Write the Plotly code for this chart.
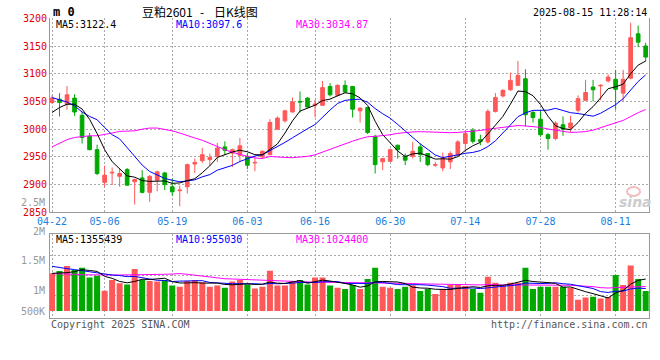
import plotly.graph_objects as go

# ---------------- data ----------------
tick_labels = ["04-22", "05-06", "05-19", "06-03", "06-16", "06-30", "07-14", "07-28", "08-11"]
tick_index = [0, 7, 16, 26, 35, 45, 55, 65, 75]   # trading-day index of each labelled date

opens = [3048, 3054, 3045, 3056, 3025, 2987, 2963, 2904, 2921, 2915,
         2927, 2905, 2912, 2886, 2908, 2921, 2896, 2889, 2896, 2937,
         2943, 2945, 2951, 2968, 2957, 2953, 2951, 2939, 2950, 2954,
         3000, 3015, 3031, 3050, 3056, 3043, 3043, 3077, 3061, 3079,
         3077, 3033, 3039, 2987, 2941, 2942, 2971, 2951, 2951, 2968,
         2956, 2935, 2930, 2941, 2953, 2974, 2998, 2981, 2977, 3032,
         3060, 3071, 3079, 3091, 3030, 3018, 2990, 2983, 3008, 3002,
         3034, 3052, 3076, 3078, 3087, 3090, 3065, 3092, 3172, 3150]
highs = [3061, 3065, 3078, 3063, 3031, 2993, 2972, 2934, 2931, 2929,
         2930, 2911, 2926, 2917, 2925, 2923, 2911, 2898, 2938, 2947,
         2966, 2956, 2975, 2978, 2965, 2984, 2957, 2949, 2962, 3018,
         3023, 3035, 3057, 3068, 3058, 3053, 3087, 3083, 3081, 3088,
         3078, 3039, 3040, 2990, 2948, 2965, 2972, 2956, 2977, 2974,
         2957, 2941, 2958, 2960, 2980, 2998, 3002, 2990, 3036, 3065,
         3072, 3102, 3123, 3108, 3033, 3035, 2993, 3014, 3023, 3024,
         3061, 3089, 3089, 3081, 3099, 3107, 3107, 3192, 3187, 3156]
lows = [3046, 3023, 3035, 3024, 2974, 2962, 2917, 2896, 2899, 2896,
        2898, 2864, 2884, 2869, 2888, 2890, 2880, 2861, 2884, 2921,
        2939, 2934, 2941, 2953, 2932, 2941, 2928, 2924, 2947, 2953,
        2999, 3012, 3030, 3030, 3039, 3021, 3042, 3059, 3059, 3066,
        3021, 3012, 2991, 2920, 2926, 2941, 2947, 2935, 2947, 2941,
        2933, 2932, 2924, 2928, 2951, 2959, 2974, 2971, 2974, 3030,
        3057, 3069, 3078, 3005, 3012, 2986, 2963, 2980, 2988, 2995,
        3030, 3051, 3050, 3052, 3084, 3035, 3050, 3090, 3148, 3122]
closes = [3056, 3048, 3062, 3031, 2985, 2963, 2920, 2917, 2922, 2920,
          2899, 2909, 2886, 2915, 2923, 2900, 2887, 2890, 2936, 2940,
          2954, 2949, 2966, 2962, 2963, 2970, 2935, 2940, 2960, 3012,
          3020, 3033, 3049, 3049, 3040, 3045, 3075, 3062, 3079, 3067,
          3036, 3038, 2994, 2936, 2947, 2963, 2963, 2944, 2960, 2954,
          2936, 2936, 2947, 2956, 2977, 2992, 2978, 2978, 3032, 3057,
          3070, 3088, 3097, 3026, 3021, 2990, 2983, 3011, 3000, 3011,
          3055, 3066, 3071, 3079, 3094, 3072, 3090, 3165, 3157, 3130]
volumes = [1600000, 1700000, 1910000, 1740000, 1840000, 1420000, 1500000, 860000, 1320000, 1180000,
           1130000, 1790000, 1320000, 1280000, 1250000, 1320000, 1080000, 1030000, 1280000, 1320000,
           1220000, 1030000, 1080000, 990000, 1250000, 1320000, 1130000, 960000, 1030000, 1710000,
           1080000, 1080000, 1280000, 1320000, 1130000, 1420000, 1420000, 1080000, 990000, 940000,
           1110000, 940000, 1360000, 1840000, 1030000, 990000, 940000, 1030000, 1080000, 850000,
           940000, 720000, 940000, 1110000, 1110000, 1060000, 940000, 780000, 1460000, 1200000,
           1080000, 1200000, 1200000, 1840000, 940000, 1030000, 1030000, 1030000, 1030000, 990000,
           480000, 570000, 610000, 530000, 590000, 1530000, 1110000, 1930000, 1360000, 850000]

# moving-average values at the left edge (their windows start before 04-22)
ma5_head = [3030, 3039, 3045, 3045]
ma10_head = [3057, 3053, 3049, 3042, 3031, 3023, 3017, 3003, 2990]
ma30_head = [2968, 2975, 2981, 2985, 2987, 2988, 2988, 2990, 2993, 2996,
             2997, 2997, 3000, 3002, 3002, 3000, 2997, 2993, 2988, 2984,
             2980, 2974, 2968, 2963, 2958, 2954, 2951, 2948, 2947]
vma5_head = [1600000, 1600000, 1630000, 1670000]
vma10_head = [1900000, 1840000, 1800000, 1760000, 1710000, 1670000, 1630000, 1560000, 1530000]
vma30_head = [1590000, 1590000, 1570000, 1560000, 1540000, 1530000, 1530000, 1530000, 1530000, 1530000,
              1530000, 1530000, 1530000, 1540000, 1560000, 1560000, 1570000, 1590000, 1560000, 1520000,
              1470000, 1430000, 1390000, 1370000, 1360000, 1350000, 1340000, 1330000, 1330000]

title_parts = ["豆粕2601", "-", "日K线图"]
stamp_text = "2025-08-15 11:28:14"
price_legend = ["MA5:3122.4", "MA10:3097.6", "MA30:3034.87"]
vol_legend = ["MA5:1355439", "MA10:955030", "MA30:1024400"]
vol_axis_labels = ["2.5M", "2M", "1.5M", "1M", "500K"]
price_ticks = [2850, 2900, 2950, 3000, 3050, 3100, 3150, 3200]

# ---------------- helpers ----------------
W, H = 660, 360
def px(x):
    return x / W
def py(y):
    return 1 - y / H

def moving_avg(vals, head, n):
    out = list(head)
    for i in range(len(head), len(vals)):
        out.append(sum(vals[i - n + 1:i + 1]) / n)
    return out

N = len(closes)
xs = list(range(N))
RED = "#FF5858"
GREEN = "#00A800"
MONO = "DejaVu Sans Mono"
CJK = "Noto Sans CJK SC"
GRID = "#A8A8A8"
BORDER = "#9A9A9A"
DOT = "2px,2px"

ma5 = moving_avg(closes, ma5_head, 5)
ma10 = moving_avg(closes, ma10_head, 10)
ma30 = moving_avg(closes, ma30_head, 30)
vma5 = moving_avg(volumes, vma5_head, 5)
vma10 = moving_avg(volumes, vma10_head, 10)
vma30 = moving_avg(volumes, vma30_head, 30)
vol_colors = [RED if c >= o else GREEN for o, c in zip(opens, closes)]

fig = go.Figure()
fig.add_trace(go.Candlestick(
    x=xs, open=opens, high=highs, low=lows, close=closes,
    increasing=dict(line=dict(color=RED, width=1), fillcolor=RED),
    decreasing=dict(line=dict(color=GREEN, width=1), fillcolor=GREEN),
    whiskerwidth=0, xaxis="x", yaxis="y", showlegend=False, hoverinfo="skip"))
for vals, col in [(ma30, "#FF00FF"), (ma10, "#0000FF"), (ma5, "#000000")]:
    fig.add_trace(go.Scatter(x=xs, y=vals, mode="lines", line=dict(color=col, width=1),
                             xaxis="x", yaxis="y", showlegend=False, hoverinfo="skip"))

fig.add_trace(go.Bar(x=xs, y=volumes, marker=dict(color=vol_colors, line=dict(width=0)),
                     width=0.8, xaxis="x2", yaxis="y2", showlegend=False, hoverinfo="skip"))
for vals, col in [(vma30, "#FF00FF"), (vma10, "#0000FF"), (vma5, "#000000")]:
    fig.add_trace(go.Scatter(x=xs, y=vals, mode="lines", line=dict(color=col, width=1),
                             xaxis="x2", yaxis="y2", showlegend=False, hoverinfo="skip"))

left, right = 50, 649.3
first_x, step = 52.0, 7.515
xr = [(left - first_x) / step, (right - first_x) / step]

price_top, price_bot = 18.3, 212.3
vol_top, vol_bot, vol_base = 234.3, 318.3, 311.0
vol_per_px = 42500
vr = [-(vol_bot - vol_base) * vol_per_px, (vol_base - vol_top) * vol_per_px]
vol_grid_px = [255.7, 275.7, 295.7]
vol_grid_vals = [(vol_base - g) * vol_per_px for g in vol_grid_px]

common = dict(showgrid=True, gridcolor=GRID, griddash=DOT, gridwidth=1,
              showline=True, linecolor=BORDER, linewidth=1, ticks="",
              zeroline=False, fixedrange=True, automargin=False)

fig.update_layout(
    template="none",
    width=W, height=H, margin=dict(l=0, r=0, t=0, b=0, pad=0), autosize=False,
    paper_bgcolor="white", plot_bgcolor="white", hovermode=False, showlegend=False,
    xaxis=dict(domain=[px(left), px(right)], range=xr, anchor="y",
               tickmode="array", tickvals=tick_index, ticktext=tick_labels,
               tickfont=dict(family=MONO, size=10, color="#1A80E0"),
               rangeslider=dict(visible=False), **common),
    yaxis=dict(domain=[py(price_bot), py(price_top)], range=[2850, 3200], anchor="x",
               tickmode="array", tickvals=price_ticks, mirror=True,
               tickfont=dict(family=MONO, size=10, color="#E00000"), **common),
    xaxis2=dict(domain=[px(left), px(right)], range=xr, anchor="y2",
                tickmode="array", tickvals=tick_index, showticklabels=False,
                mirror=True, **common),
    yaxis2=dict(domain=[py(vol_bot), py(vol_top)], range=vr, anchor="x2",
                tickmode="array", tickvals=vol_grid_vals, showticklabels=False,
                mirror=True, **common),
)

ann = []
def add_text(text, x, y, anchor="left", color="#000", size=10, family=MONO, bold=False):
    if bold:
        text = "<b>" + text + "</b>"
    ann.append(dict(text=text, x=px(x), y=py(y), xref="paper", yref="paper",
                    xanchor=anchor, yanchor="middle", showarrow=False,
                    font=dict(family=family, size=size, color=color)))

add_text("m 0", 51, 12, bold=True, size=12)
add_text(title_parts[0], 140, 11, size=12, family=CJK)
add_text(title_parts[1], 202, 11, anchor="center", size=12, family=CJK)
add_text(title_parts[2], 212, 11, size=12, family=CJK)
add_text(stamp_text, 649, 12.5, anchor="right")
leg_cols = ["#000000", "#0000FF", "#FF00FF"]
leg_x = [54, 174, 294]
for t, c, x in zip(price_legend, leg_cols, leg_x):
    add_text(t, x, 24.5, color=c)
for t, c, x in zip(vol_legend, leg_cols, leg_x):
    add_text(t, x, 239, color=c)
for t, y in zip(vol_axis_labels, [202, 231.5, 260, 290.5, 311]):
    add_text(t, 47, y, anchor="right", color="#999999")
add_text("Copyright 2025 SINA.COM", 49, 324, color="#555555")
add_text("http://finance.sina.com.cn", 650, 324, anchor="right", color="#555555")
ann.append(dict(text="<b><i>sina</i></b>", x=px(635), y=py(202), xref="paper", yref="paper",
                xanchor="center", yanchor="middle", showarrow=False,
                font=dict(family="DejaVu Sans", size=14, color="#CCCCCC")))
fig.update_layout(annotations=ann)
fig.add_shape(type="circle", xref="paper", yref="paper",
              x0=px(627), x1=px(640), y0=py(196), y1=py(187),
              line=dict(color="#F2BEBE", width=2))

# the page's default body margin would offset the 660x360 figure; remove it
fig.write_html("out.html", config={"displayModeBar": False, "staticPlot": True},
               post_script="document.body.style.margin='0';")
